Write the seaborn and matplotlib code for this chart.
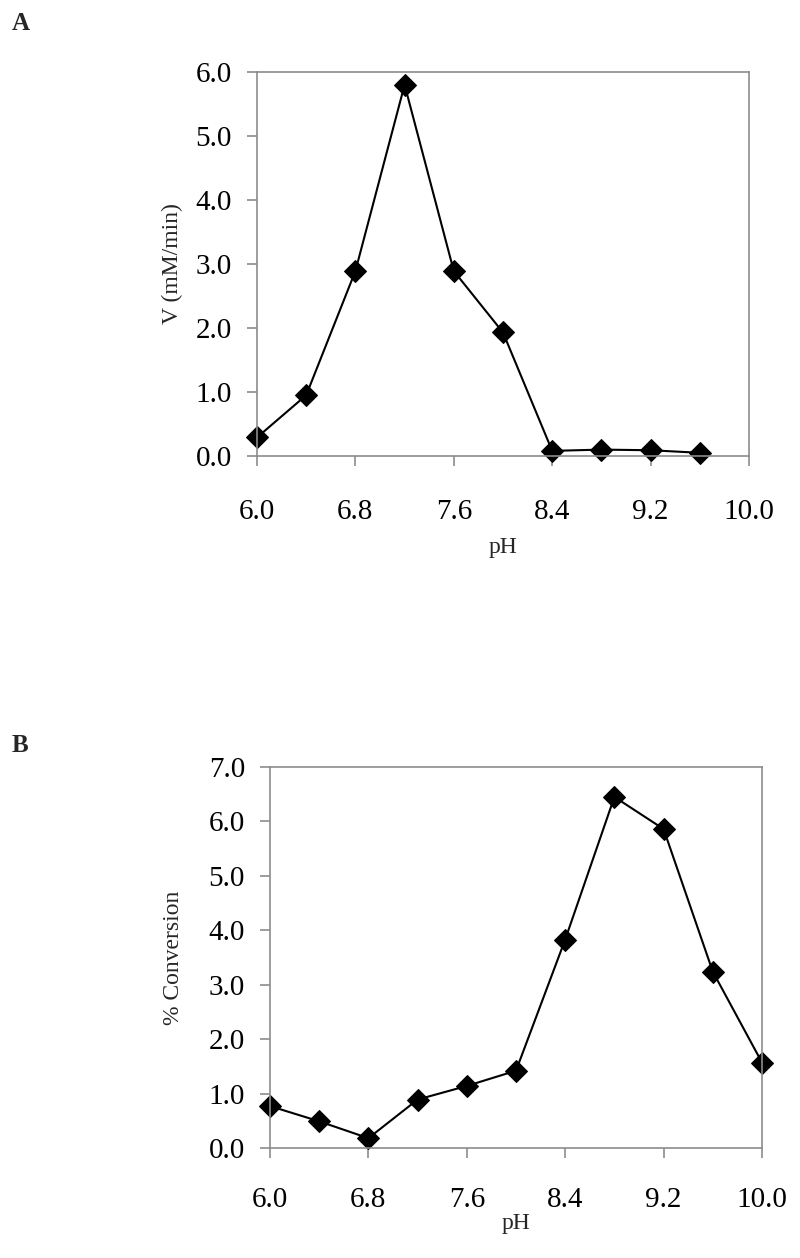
import numpy as np
import pandas as pd
import matplotlib
matplotlib.use('Agg')
import matplotlib.pyplot as plt
import seaborn as sns

# 数据
ph_a = [6.0, 6.4, 6.8, 7.2, 7.6, 8.0, 8.4, 8.8, 9.2, 9.6]
rate_a = [0.29, 0.95, 2.89, 5.80, 2.89, 1.93, 0.08, 0.10, 0.09, 0.05]

ph_b = [6.0, 6.4, 6.8, 7.2, 7.6, 8.0, 8.4, 8.8, 9.2, 9.6, 10.0]
conv_b = [0.77, 0.49, 0.18, 0.89, 1.14, 1.42, 3.83, 6.45, 5.86, 3.24, 1.57]

x_ticks = [6.0, 6.8, 7.6, 8.4, 9.2, 10.0]
y_ticks_a = [0.0, 1.0, 2.0, 3.0, 4.0, 5.0, 6.0]
y_ticks_b = [0.0, 1.0, 2.0, 3.0, 4.0, 5.0, 6.0, 7.0]

sns.set_style('white')
plt.rcParams['font.family'] = ['Liberation Serif', 'DejaVu Serif']
plt.rcParams['mathtext.fontset'] = 'stix'

spine_color = '#8c8c8c'


def style_axes(ax, y_ticks, x_pad):
    ax.set_xlim(6.0, 10.0)
    ax.set_ylim(y_ticks[0], y_ticks[-1])
    ax.set_xticks(x_ticks)
    ax.set_yticks(y_ticks)
    ax.set_xticklabels([f'{t:.1f}' for t in x_ticks])
    ax.set_yticklabels([f'{t:.1f}' for t in y_ticks])
    for s in ax.spines.values():
        s.set_visible(True)
        s.set_color(spine_color)
        s.set_linewidth(1.2)
    ax.tick_params(axis='both', direction='out', length=7, width=1.2,
                   color=spine_color, labelsize=21, labelcolor='black')
    ax.tick_params(axis='x', pad=x_pad, bottom=True)
    ax.tick_params(axis='y', pad=11, left=True)
    ax.grid(False)


fig = plt.figure(figsize=(8, 12.58), dpi=100)

# 图 A
ax_a = fig.add_axes([257 / 800, 1 - 456 / 1258, 492 / 800, 384 / 1258])
df_a = pd.DataFrame({'pH': ph_a, 'V': rate_a})
sns.lineplot(data=df_a, x='pH', y='V', ax=ax_a, color='black', linewidth=1.5,
             marker='D', markersize=11, markeredgecolor='black', clip_on=False)
style_axes(ax_a, y_ticks_a, 24)
ax_a.set_xlabel('pH', fontsize=17)
ax_a.set_ylabel('V (mM/min)', fontsize=17)
ax_a.xaxis.set_label_coords(0.5, -0.21)
ax_a.yaxis.set_label_coords(-0.15, 0.5)
ax_a.yaxis.label.set_va('bottom')

# 图 B
ax_b = fig.add_axes([270 / 800, 1 - 1148 / 1258, 492 / 800, 381 / 1258])
df_b = pd.DataFrame({'pH': ph_b, 'conv': conv_b})
sns.lineplot(data=df_b, x='pH', y='conv', ax=ax_b, color='black', linewidth=1.5,
             marker='D', markersize=11, markeredgecolor='black', clip_on=False)
style_axes(ax_b, y_ticks_b, 21)
ax_b.set_xlabel('pH', fontsize=17)
ax_b.set_ylabel('% Conversion', fontsize=17)
ax_b.xaxis.set_label_coords(0.5, -0.17)
ax_b.yaxis.set_label_coords(-0.175, 0.5)

# 面板字母
fig.text(12 / 800, 1 - 23 / 1258, 'A', fontsize=18, fontweight='bold', va='center')
fig.text(12 / 800, 1 - 745 / 1258, 'B', fontsize=18, fontweight='bold', va='center')

fig.savefig('out.png', dpi=100)
plt.close(fig)
